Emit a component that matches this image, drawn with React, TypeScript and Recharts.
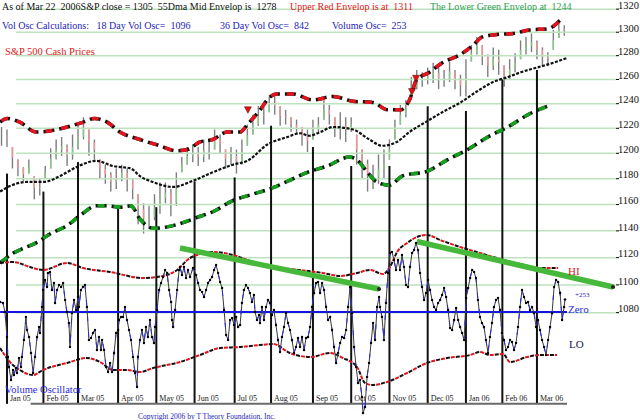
import React from "react";
import { ComposedChart, Bar, Line, XAxis, YAxis, ReferenceLine, ReferenceDot } from "recharts";

const FONT = '"Liberation Serif", "Times New Roman", serif';

// trading-day index, 0 = first session of Jan 2005
const priceDays = [-3,0,3,6,9,12,15,18,21,24,27,30,33,36,39,42,45,48,51,54,57,60,63,66,69,72,75,78,81,84,87,90,93,96,99,102,105,108,111,114,117,120,123,126,129,132,135,138,141,144,147,150,153,156,159,162,165,168,171,174,177,180,183,186,189,192,195,198,201,204,207,210,213,216,219,222,225,228,231,234,237,240,243,246,249,252,255,258,261,264,267,270,273,276,279,282,285,288,291,294,297,300,303,306];
const priceHigh = [1221,1219,1205,1195,1189,1195,1182,1180,1190,1204,1211,1213,1207,1215,1223,1229,1219,1211,1195,1191,1185,1188,1191,1188,1180,1168,1161,1159,1168,1177,1177,1172,1185,1197,1205,1207,1205,1211,1211,1219,1215,1203,1205,1203,1211,1223,1231,1238,1238,1246,1246,1238,1235,1229,1227,1221,1219,1227,1229,1243,1239,1229,1233,1229,1229,1215,1203,1195,1191,1199,1203,1211,1227,1239,1243,1262,1268,1266,1270,1274,1270,1268,1275,1268,1264,1277,1289,1296,1289,1281,1287,1285,1272,1277,1282,1293,1296,1299,1293,1287,1283,1302,1311,1306];
const priceLow = [1206,1205,1188,1182,1178,1184,1164,1167,1180,1188,1195,1198,1190,1195,1203,1211,1198,1195,1180,1176,1170,1172,1178,1170,1164,1145,1138,1142,1148,1153,1161,1151,1159,1185,1191,1193,1190,1193,1195,1203,1200,1188,1191,1184,1191,1206,1215,1222,1223,1233,1231,1222,1223,1217,1215,1206,1201,1211,1217,1227,1223,1213,1211,1209,1217,1191,1180,1170,1172,1176,1180,1195,1211,1223,1229,1246,1252,1254,1256,1257,1252,1254,1258,1252,1246,1246,1275,1281,1272,1262,1268,1264,1254,1260,1266,1277,1281,1283,1277,1271,1271,1285,1295,1297];

const upperDays = [-3.8,0,7,16,24,33,42,48,55,62,73,84,93,99,106,113,121,128,132,139,144,148,157,168,179,190,201,209,216,221,225,232,239,249,256,261,269,278,287,297,304];
const upperValues = [1225,1228,1225,1217,1218,1221,1225,1228,1225,1217,1211,1206,1202,1203,1209,1211,1217,1217,1223,1235,1245,1248,1248,1243,1246,1242,1241,1235,1235,1243,1260,1266,1274,1281,1289,1296,1298,1299,1302,1303,1311];

const midDays = [-3.8,2,11,20,29,38,49,58,68,73,80,91,102,113,124,132,143,154,161,166,172,179,190,199,206,214,221,231,239,249,258,267,275,282,291,300,307.5];
const midValues = [1170,1174.5,1177.5,1177.5,1182,1189,1194,1190,1188,1182,1177.5,1173.6,1178.3,1185,1191,1194,1207,1213,1216,1214,1217,1221,1219,1211,1206,1209,1217,1226,1233,1241,1250,1258,1262,1266,1270,1274,1278];

const lowerDays = [-3.8,3,9,16,24,33,40,49,55,62,68,73,80,88,95,104,113,124,135,146,154,165,176,188,192,198,203,210,217,231,242,253,264,275,286,297];
const lowerValues = [1116,1123,1127,1131,1138,1144,1151.5,1159,1159,1158,1159,1149,1142,1143,1145.5,1150,1154.5,1163,1168,1173,1178,1185,1190,1197,1195,1185,1177.5,1175,1182,1186,1195,1203,1213,1221,1231,1238];

// volume oscillator: [day, value]
const oscillator: [number, number][] = [
  [-3.8,200],[-2.2,180],[-1.1,0],[0,-500],[0.5,-900],[1.1,-1100],[2.2,-1360],[3.3,-1160],[3.8,-1260],[4.9,-1120],
  [5.5,-1220],[6.6,-920],[7.7,-1100],[8.2,-900],[9.3,-560],[10.4,-100],[11,-360],[12.1,-500],[13.2,-820],[14.3,-1220],
  [15.4,-900],[16.5,-500],[17.6,-300],[18.1,-420],[19.2,100],[19.8,440],[20.9,640],[22,500],[22.5,780],[23.6,800],
  [24.7,440],[25.8,580],[26.4,180],[27.5,440],[28.6,540],[29.7,500],[30.8,580],[31.9,240],[32.9,0],[34,-220],
  [34.6,-700],[35.7,-20],[36.8,240],[37.9,40],[39,300],[39.5,100],[40.6,440],[41.7,500],[42.8,540],[43.9,100],
  [45,-560],[46.1,-520],[47.2,-420],[48.3,-360],[49.4,-760],[50.5,-500],[51.6,-760],[52.2,-560],[53.3,-760],[54.4,-1100],
  [55.5,-1200],[56.6,-1020],[57.7,-1200],[58.8,-820],[59.9,-420],[61,-360],[61.5,-160],[62.6,-100],[63.7,-100],[64.8,100],
  [65.9,-160],[67,-360],[68.1,-560],[69.2,-900],[70.3,-1220],[71.4,-1500],[71.9,-900],[73,-560],[74.1,-360],[75.2,-620],
  [76.3,-300],[77.4,-500],[78.5,-160],[79.6,-500],[80.7,-620],[81.3,-300],[82.4,40],[83.5,440],[84.6,580],[85.7,700],
  [86.8,840],[87.9,780],[89,440],[90.1,200],[90.6,-160],[91.2,-300],[92.3,40],[93.4,440],[94.5,840],[95,900],
  [96.1,740],[97.2,900],[98.3,680],[99.4,840],[100.5,700],[102.1,880],[103.8,740],[104.9,580],[106,440],[107.1,400],
  [108.2,300],[109.3,440],[110.4,580],[111.5,640],[112.6,700],[113.7,840],[114.8,940],[115.9,780],[117,600],[118.1,480],
  [119.2,40],[120.3,-460],[121.4,-560],[122.5,-160],[123.6,-120],[124.7,-260],[125.8,-100],[126.9,-300],[128,-260],[129,180],
  [130.1,440],[131.2,540],[132.3,480],[133.4,380],[134.5,200],[135.6,340],[136.2,0],[137.3,-160],[138.4,-60],[138.9,-220],
  [140,100],[141.1,-160],[142.2,100],[143.3,240],[144.4,180],[145.5,-60],[146.6,40],[147.7,-260],[148.8,-560],[149.9,-800],
  [151,-500],[152.1,-300],[153.2,-20],[154.3,-220],[155.4,-360],[156.5,-560],[157.6,-820],[158.7,-700],[159.8,-520],[160.9,-700],
  [162,-500],[163.1,-760],[164.2,-520],[165.3,-500],[166.4,-300],[167.5,100],[168.6,380],[169.7,580],[170.8,600],[171.9,380],
  [173,580],[174.1,440],[175.2,100],[176.3,-160],[177.4,-100],[178.5,-360],[179.6,-700],[180.7,-1020],[181.8,-820],[182.9,-620],
  [184,-500],[185.1,-520],[186.2,-360],[187.3,100],[188.4,500],[189.5,-20],[190.6,-700],[191.7,-1100],[192.8,-1420],[193.8,-1360],
  [194.9,-1700],[195.5,-2020],[196.6,-1900],[197.7,-1300],[198.8,-1020],[199.9,-620],[201,-220],[202.1,-560],[203.2,100],[204.3,300],
  [204.8,100],[205.9,-100],[207,-560],[208.1,180],[209.2,780],[210.3,1180],[211.4,1200],[212.5,1040],[213.6,840],[214.7,1040],
  [215.8,840],[216.9,1140],[218,900],[219.1,540],[220.2,500],[221.3,900],[222.4,1180],[223.5,1240],[224.6,1380],[225.7,1240],
  [226.8,780],[227.9,500],[229,240],[230.1,380],[231.2,640],[232.3,440],[233.4,240],[234.5,100],[235.6,40],[236.7,180],
  [237.8,240],[238.9,340],[240,480],[241.1,300],[242.2,40],[243.3,-320],[244.4,-360],[245.5,-160],[246.6,80],[247.7,-160],
  [248.8,-300],[249.9,-420],[251,-560],[252.1,280],[253.2,480],[254.3,680],[255.4,840],[256.5,800],[257.5,680],[258.6,240],
  [259.7,-100],[260.8,-220],[261.9,-300],[263,-560],[264.1,-820],[265.2,-500],[266.3,-220],[267.4,100],[268.5,240],[269.6,280],
  [270.7,40],[271.8,-420],[272.9,-560],[274,-760],[275.1,-700],[276.2,-560],[277.3,-600],[278.4,-760],[279.5,-620],[280.6,-300],
  [281.7,100],[282.8,440],[283.9,300],[285,180],[286.1,200],[287.2,40],[288.3,100],[289.4,-20],[290.5,-300],[291.6,-160],
  [292.7,-360],[293.8,-560],[294.9,-700],[296,-860],[297.1,-560],[298.2,-300],[299.3,-20],[300.4,500],[301.5,640],[302.6,600],
  [303.7,380],[304.8,-160],[305.9,100],[306.4,253],
];

const hiDays = [-3.8,3.3,12.6,19.8,32.9,41.7,56.6,74.7,82.4,93.4,100.5,113.1,124.1,135.1,146.1,160.9,173.5,182.9,192.2,199.3,206.5,210.3,214.2,219.7,225.1,230.6,237.8,248.8,259.7,266.9,281.7,292.7,302.6];
const hiValues = [980,1000,900,840,980,880,800,680,700,840,1080,1200,1140,1000,900,840,780,720,780,840,760,900,1200,1380,1500,1540,1440,1300,1180,1100,960,880,880];
const loDays = [-3.8,1.6,7.1,14.3,19.8,32.9,43.9,51.1,58.2,65.9,73,80.2,95,106,117,128,138.9,146.1,155.4,166.4,177.4,184.5,192.2,196.6,200.4,208.7,219.7,230.6,241.6,254.3,259.7,265.2,272.4,276.2,285.6,292.7,302];
const loValues = [-720,-1000,-1160,-1260,-1160,-1020,-920,-1000,-1160,-1160,-1200,-1120,-1000,-860,-720,-700,-660,-640,-820,-900,-820,-920,-1100,-1420,-1460,-1400,-1220,-1020,-920,-860,-800,-860,-840,-1000,-900,-860,-860];

const trendFromDay = [95, 225.1];
const trendFromValue = [1280, 1410];
const trendToDay = [204.3, 332.8];
const trendToValue = [460, 500];

const monthDays = [0,20,39,61,82,103,125,145,168,189,210,231,252,272,291];
const monthLabels = ["Jan 05","Feb 05","Mar 05","Apr 05","May 05","Jun 05","Jul 05","Aug 05","Sep 05","Oct 05","Nov 05","Dec 05","Jan 06","Feb 06","Mar 06"];
const monthLineTop = [1184,1170,1193,1158,1158,1178,1181,1222,1205,1190,1190,1238,1234,1260,1268];

const signalDays = [132.3, 222.4, 224.6];
const signalPrices = [1235, 1250, 1261];

const priceTicks = [1080,1100,1120,1140,1160,1180,1200,1220,1240,1260,1280,1300,1320];

const AXIS_FLOOR = 1016.8;
const DAY_MIN = -3.84;
const DAY_MAX = 334.4;

const priceData = priceDays.map((day, i) => ({
  day,
  range: [priceLow[i], priceHigh[i]],
  high: priceHigh[i],
  low: priceLow[i],
  prevMid: i > 0 ? (priceHigh[i - 1] + priceLow[i - 1]) / 2 : (priceHigh[i] + priceLow[i]) / 2,
}));
const upperData = upperDays.map((day, i) => ({ day, upper: upperValues[i] }));
const midData = midDays.map((day, i) => ({ day, mid: midValues[i] }));
const lowerData = lowerDays.map((day, i) => ({ day, lower: lowerValues[i] }));
const oscData = oscillator.map(([day, osc]) => ({ day, osc }));
const hiData = hiDays.map((day, i) => ({ day, hi: hiValues[i] }));
const loData = loDays.map((day, i) => ({ day, lo: loValues[i] }));

function PriceBar(props: any) {
  const { x, y, width, height, payload } = props;
  if (x == null || y == null || !payload) return null;
  const top = Math.min(y, y + height);
  const bottom = Math.max(y, y + height);
  const cx = x + width / 2;
  const { high, low, prevMid } = payload;
  const mid = (high + low) / 2;
  const toY = (v: number) => top + ((high - v) / (high - low)) * (bottom - top);
  const a = toY(Math.min(Math.max(prevMid, low), high));
  const b = toY(mid);
  const up = mid >= prevMid;
  return (
    <g>
      <line x1={cx} x2={cx} y1={top} y2={bottom} stroke="#7e7e7e" strokeWidth={1.4} />
      <line x1={cx} x2={cx} y1={Math.min(a, b)} y2={Math.max(a, b)} stroke={up ? "#86c986" : "#ef9494"} strokeWidth={1.4} />
    </g>
  );
}

const priceTick = (p: any) => (
  <text x={p.x - 2} y={p.y - 4} dy="0.35em" textAnchor="start" fontSize={10.5} fontFamily={FONT} fill="#111">
    {p.payload.value}
  </text>
);

function envelope(data: any[], key: string, color: string, axis: string, width: number, base: string, dash: string, offset: number) {
  return [
    <Line key={key + "-base"} data={data} dataKey={key} yAxisId={axis} type="monotone" stroke="#111" strokeWidth={width}
      strokeDasharray={base} dot={false} activeDot={false} isAnimationActive={false} />,
    <Line key={key + "-col"} data={data} dataKey={key} yAxisId={axis} type="monotone" stroke={color} strokeWidth={width}
      strokeDasharray={dash} strokeDashoffset={offset} dot={false} activeDot={false} isAnimationActive={false} />,
  ];
}

function Txt({ x, y, size, color, children }: { x: number; y: number; size: number; color: string; children: React.ReactNode }) {
  return (
    <div style={{ position: "absolute", left: x, top: y, fontSize: size, color, lineHeight: 1, whiteSpace: "pre", fontFamily: FONT }}>
      {children}
    </div>
  );
}

export default function App() {
  return (
    <div style={{ position: "relative", width: 640, height: 420, overflow: "hidden", background: "#fff", fontFamily: FONT }}>
      <style>{`body{margin:0}`}</style>
      <ComposedChart width={640} height={420} data={priceData} margin={{ top: 0, right: 0, bottom: 0, left: 0 }}>
        <XAxis type="number" dataKey="day" domain={[DAY_MIN, DAY_MAX]} allowDataOverflow hide />
        <YAxis yAxisId="price" orientation="right" scale="log" domain={[1006, 1328]} allowDataOverflow ticks={priceTicks}
          interval={0} width={24} axisLine={false} tickLine={{ stroke: "#000" }} tickSize={3} tickMargin={1} tick={priceTick} />
        <YAxis yAxisId="osc" hide domain={[-2160, 6240]} allowDataOverflow />

        {priceTicks.map((v) => (
          <ReferenceLine key={"g" + v} yAxisId="price" segment={[{ x: 5, y: v }, { x: DAY_MAX - 0.1, y: v }]}
            stroke="#bde2bd" strokeWidth={1.5} />
        ))}

        {monthDays.map((d, i) => (
          <ReferenceLine key={"m" + i} yAxisId="price" segment={[{ x: d, y: monthLineTop[i] }, { x: d, y: AXIS_FLOOR }]}
            stroke="#111" strokeWidth={2}
            label={{ value: monthLabels[i], position: "insideBottomLeft", offset: 3, fontSize: 8, fill: "#222", fontFamily: FONT }} />
        ))}
        <ReferenceLine yAxisId="price" segment={[{ x: 13, y: AXIS_FLOOR }, { x: 307.5, y: AXIS_FLOOR }]} stroke="#6a6a6a" strokeWidth={2} />

        <ReferenceLine yAxisId="osc" segment={[{ x: -3.8, y: 0 }, { x: 307.5, y: 0 }]} stroke="#1414e6" strokeWidth={2} />

        <Bar yAxisId="price" dataKey="range" barSize={2} shape={PriceBar} isAnimationActive={false} />

        {envelope(upperData, "upper", "#e3141c", "price", 3.5, "11 5", "7 9", -2)}
        <Line data={midData} dataKey="mid" yAxisId="price" type="monotone" stroke="#111" strokeWidth={2.2}
          strokeDasharray="3 1.5" dot={false} activeDot={false} isAnimationActive={false} />
        {envelope(lowerData, "lower", "#13a01a", "price", 3.5, "11 5", "7 9", -2)}

        {envelope(hiData, "hi", "#e3141c", "osc", 2, "4 6", "4 6", -5)}
        {envelope(loData, "lo", "#e3141c", "osc", 2, "4 6", "4 6", -5)}

        <Line data={oscData} dataKey="osc" yAxisId="osc" type="linear" stroke="#3a3a3a" strokeWidth={1}
          dot={{ r: 1.2, fill: "#000", stroke: "none" }} activeDot={false} isAnimationActive={false} />
        <Line data={oscData} dataKey="osc" yAxisId="osc" type="linear" stroke="#2a2ae0" strokeWidth={1}
          strokeDasharray="5 11" dot={false} activeDot={false} isAnimationActive={false} />

        {trendFromDay.map((d, i) => (
          <ReferenceLine key={"t" + i} yAxisId="osc"
            segment={[{ x: d, y: trendFromValue[i] }, { x: trendToDay[i], y: trendToValue[i] }]}
            stroke="#46b83a" strokeWidth={5.5} />
        ))}
        {trendToDay.map((d, i) => (
          <ReferenceDot key={"te" + i} yAxisId="osc" x={d} y={trendToValue[i]} r={2} fill="#222" stroke="none" />
        ))}

        {signalDays.map((d, i) => (
          <ReferenceDot key={"s" + i} yAxisId="price" x={d} y={signalPrices[i]} r={3}
            shape={(p: any) => (
              <path d={`M${p.cx - 3.5},${p.cy - 3}L${p.cx + 3.5},${p.cy - 3}L${p.cx},${p.cy + 3.5}Z`} fill="#e01010" stroke="#600" strokeWidth={0.5} />
            )} />
        ))}
      </ComposedChart>

      <Txt x={2} y={1.5} size={10} color="#111">{"As of Mar 22  2006S&P close = 1305  55Dma Mid Envelop is  1278"}</Txt>
      <Txt x={290} y={1.5} size={10} color="#e01818">{"Upper Red Envelop is at  1311"}</Txt>
      <Txt x={430} y={1.5} size={10} color="#2e9e52">{"The Lower Green Envelop at  1244"}</Txt>
      <Txt x={2} y={20.5} size={10} color="#2323b8">{"Vol Osc Calculations:   18 Day Vol Osc=  1096"}</Txt>
      <Txt x={220} y={20.5} size={10} color="#2323b8">{"36 Day Vol Osc=  842"}</Txt>
      <Txt x={332} y={20.5} size={10} color="#2323b8">{"Volume Osc=  253"}</Txt>
      <Txt x={5} y={46.5} size={10.5} color="#e01818">{"S&P 500 Cash Prices"}</Txt>
      <Txt x={5} y={384.5} size={10.5} color="#2a2ae0">{"Volume Oscillator"}</Txt>
      <Txt x={138} y={413} size={7.5} color="#2323b8">{"Copyright 2006 by T Theory Foundation, Inc."}</Txt>
      <Txt x={568} y={265.5} size={11} color="#e01818">{"HI"}</Txt>
      <Txt x={575} y={292} size={7} color="#2323b8">{"+253"}</Txt>
      <Txt x={568} y={303.5} size={11} color="#2a2ae0">{"Zero"}</Txt>
      <Txt x={569} y={339} size={11} color="#15155a">{"LO"}</Txt>
    </div>
  );
}
